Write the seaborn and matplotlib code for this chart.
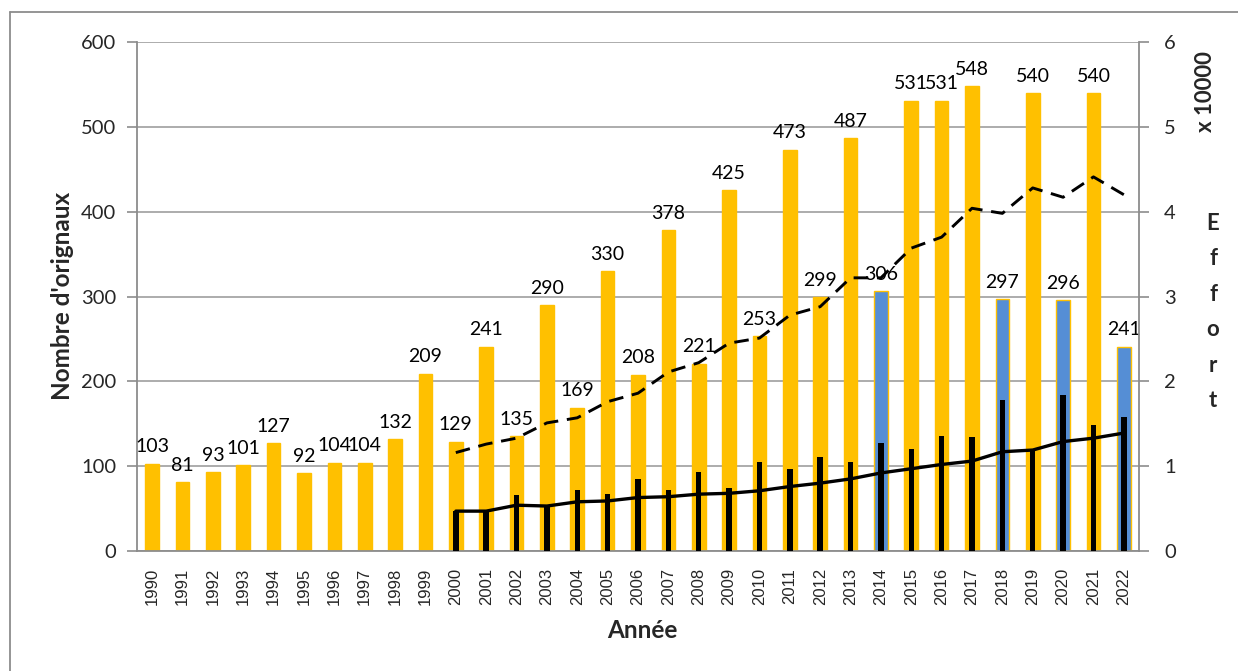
import matplotlib
matplotlib.use("Agg")
import matplotlib.pyplot as plt
from matplotlib.lines import Line2D
from matplotlib.ticker import FixedLocator, NullFormatter
import seaborn as sns
import pandas as pd
import numpy as np

sns.set_theme(style="white")
plt.rcParams['font.family'] = ['Lato', 'DejaVu Sans']

# --- data ---
annees = list(range(1990, 2023))
orignaux = [103, 81, 93, 101, 127, 92, 104, 104, 132, 209, 129, 241, 135, 290, 169,
            330, 208, 378, 221, 425, 253, 473, 299, 487, 306, 531, 531, 548, 297,
            540, 296, 540, 241]
annees_bleues = [2014, 2018, 2020, 2022]

annees_effort = list(range(2000, 2023))
effort_annuel = [0.47, 0.47, 0.66, 0.53, 0.72, 0.67, 0.85, 0.72, 0.93, 0.74, 1.05, 0.97,
                 1.11, 1.05, 1.27, 1.20, 1.35, 1.34, 1.78, 1.19, 1.84, 1.48, 1.58]
effort_moyen = [0.47, 0.47, 0.54, 0.53, 0.58, 0.59, 0.63, 0.64, 0.67, 0.68, 0.71, 0.76,
                0.80, 0.85, 0.92, 0.97, 1.02, 1.06, 1.17, 1.19, 1.29, 1.33, 1.39]
effort_cumul = [1.16, 1.26, 1.33, 1.51, 1.57, 1.76, 1.86, 2.11, 2.22, 2.45, 2.51, 2.78,
                2.88, 3.22, 3.22, 3.57, 3.70, 4.04, 3.98, 4.28, 4.17, 4.41, 4.20]

JAUNE = '#FFC000'
BLEU = '#558ED5'
GRIS = '#8C8C8C'

labels = [str(a) for a in annees]
df = pd.DataFrame({
    'annee': labels,
    'orignaux': orignaux,
    'type': ['bleu' if a in annees_bleues else 'jaune' for a in annees],
})
df_eff = pd.DataFrame({
    'annee': [str(a) for a in annees_effort],
    'pos': [labels.index(str(a)) for a in annees_effort],
    'annuel': effort_annuel,
    'moyen': effort_moyen,
    'cumul': effort_cumul,
})

W, H = 1238, 671
fig = plt.figure(figsize=(W / 100, H / 100), dpi=100)
ax = fig.add_axes([137 / W, 1 - 551 / H, (1139 - 137) / W, (551 - 42) / H])
ax2 = ax.twinx()

sns.barplot(data=df, x='annee', y='orignaux', hue='type', order=labels,
            palette={'jaune': JAUNE, 'bleu': BLEU}, dodge=False, width=0.45,
            saturation=1, edgecolor=JAUNE, linewidth=1.0, legend=False, ax=ax)
for c in ax.containers:
    ax.bar_label(c, padding=6, fontsize=14, color='black')

sns.barplot(data=df_eff, x='annee', y='annuel', order=labels, color='black',
            width=0.18, saturation=1, edgecolor='black', linewidth=0, ax=ax2)
sns.lineplot(data=df_eff, x='pos', y='moyen', color='black', lw=2.4, ax=ax2)
sns.lineplot(data=df_eff, x='pos', y='cumul', color='black', lw=2.1, ax=ax2,
             dashes=False, linestyle=(0, (5, 3)))

# axes
ax.set_xlim(-0.5, len(annees) - 0.5)
ax.set_ylim(0, 600)
ax2.set_ylim(0, 6)
ax.set_yticks(range(0, 601, 100))
ax2.set_yticks(range(0, 7))
ax.set_xticks(range(len(annees)))
ax.set_xticklabels(labels, rotation=90, fontsize=12, family=['Liberation Sans'])
ax.xaxis.set_minor_locator(FixedLocator(np.arange(-0.5, len(annees), 1)))
ax.xaxis.set_minor_formatter(NullFormatter())
ax.tick_params(axis='x', which='major', length=0, pad=12)
ax.tick_params(axis='x', which='minor', length=6, width=1.2, color=GRIS, direction='out')
ax.tick_params(axis='y', length=7, width=1.2, color=GRIS, direction='out', pad=8,
               labelsize=14.5, left=True)
ax2.tick_params(axis='y', length=7, width=1.2, color=GRIS, direction='out', pad=11,
                labelsize=14.5, right=True)

ax.yaxis.grid(True, color='#A6A6A6', lw=1.3)
ax.set_axisbelow(True)
for s in ['top', 'right']:
    ax.spines[s].set_visible(False)
for s in ['top', 'left', 'bottom']:
    ax2.spines[s].set_visible(False)
for s in ['left', 'bottom']:
    ax.spines[s].set_color(GRIS)
    ax.spines[s].set_linewidth(1.3)
ax2.spines['right'].set_color(GRIS)
ax2.spines['right'].set_linewidth(1.3)

ax.set_xlabel('')
ax.set_ylabel('')
ax2.set_xlabel('')
ax2.set_ylabel('')

fig.text(642 / W, 1 - 631 / H, 'Année', ha='center', va='center',
         fontsize=17.5, fontweight='bold')
fig.text(63 / W, 1 - 296 / H, "Nombre d'orignaux", ha='center', va='center',
         rotation=90, fontsize=17.5, fontweight='bold')
fig.text(1205 / W, 1 - 92 / H, 'x 10000', ha='center', va='center',
         rotation=90, fontsize=16, fontweight='bold')
fig.text(1213 / W, 1 - 312 / H, 'E\nf\nf\no\nr\nt', ha='center', va='center',
         fontsize=16, fontweight='bold', linespacing=1.85)

# outer frame (cut off on right and bottom)
fig.add_artist(Line2D([10 / W, 10 / W], [0, 1 - 12 / H], color=GRIS, lw=1.3))
fig.add_artist(Line2D([10 / W, 1], [1 - 12 / H, 1 - 12 / H], color=GRIS, lw=1.3))

fig.savefig('out.png', dpi=100)
plt.close(fig)
